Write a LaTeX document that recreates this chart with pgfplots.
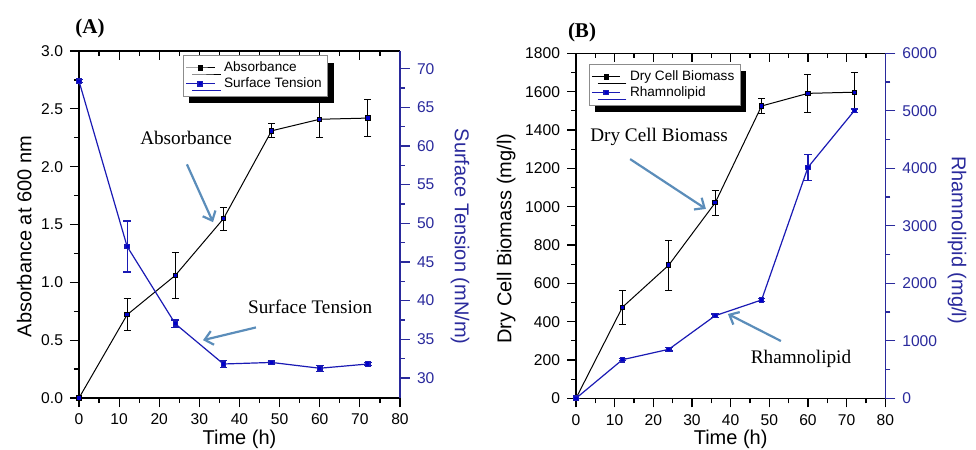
\documentclass[border=0pt]{standalone}
\usepackage{fontspec}
\setmainfont{Liberation Sans}
\newfontfamily\annfont{Liberation Serif}
\usepackage{pgfplots}
\pgfplotsset{compat=1.18}
\usetikzlibrary{arrows.meta,shadows}
\definecolor{axblue}{HTML}{2A2A9C}
\definecolor{datblue}{HTML}{1A1AB4}
\definecolor{arrowblue}{HTML}{5B8DBA}

\tikzset{
  arr/.style={arrowblue, line width=1.1pt, -{Straight Barb[length=4pt,width=7pt]}},
  ann/.style={font=\annfont\fontsize{9.6}{11}\selectfont},
}

\pgfplotsset{
  panel/.style={
    scale only axis,
    xmin=0, xmax=80,
    xtick={0,10,...,80}, minor x tick num=1,
    tick label style={font=\fontsize{7.8}{9}\selectfont},
    label style={font=\fontsize{10}{12}\selectfont},
    /pgf/number format/assume math mode=true,
    /pgf/number format/1000 sep={},
    scaled ticks=false,
    axis line style={line width=0.6pt},
    major tick length=4.5pt, minor tick length=2.5pt,
    every tick/.style={line width=0.6pt, black},
    tick align=outside,
    xlabel style={at={(axis description cs:0.5,-0.118)}, anchor=center},
  },
  blueside/.style={
    axis y line*=right, axis x line=none,
    y axis line style={axblue, line width=0.6pt},
    every tick/.style={line width=0.6pt, axblue},
    y tick label style={text=axblue},
    ylabel style={text=axblue, rotate=180},
    major tick length=5pt,
    legend style={font=\fontsize{6.8}{7.5}\selectfont, draw=black!45, fill=white,
      line width=0.4pt, inner sep=1pt, row sep=-2.5pt, cells={anchor=west},
      /tikz/every odd column/.append style={column sep=2.5pt},
      drop shadow={shadow xshift=3pt, shadow yshift=-3.5pt, fill=black, opacity=1}},
    legend image code/.code={\draw[mark repeat=2,mark phase=2] plot coordinates {(0cm,0cm)(0.25cm,0cm)(0.5cm,0cm)};},
  },
  topticks/.style={
    scale only axis, xmin=0, xmax=80, ymin=0, ymax=1,
    axis x line*=top, axis y line=none,
    xtick={0,10,...,80}, minor x tick num=1, xticklabels={},
    tick align=inside, axis line style={line width=0.6pt},
    major tick length=4.5pt, minor tick length=2.5pt,
    every tick/.style={line width=0.6pt, black},
  },
  blk/.style={black, line width=0.5pt, mark=square*, mark size=1.1pt,
    error bars/.cd, y dir=both, y explicit,
    error bar style={line width=0.5pt, black},
    error mark options={rotate=90, black, mark size=1.75pt, line width=0.5pt}},
  blu/.style={datblue, line width=0.6pt, mark=square*, mark size=1.1pt,
    error bars/.cd, y dir=both, y explicit,
    error bar style={line width=0.6pt, datblue},
    error mark options={rotate=90, datblue, mark size=1.9pt, line width=0.6pt}},
}

\begin{document}
\begin{tikzpicture}
\useasboundingbox (0,0) rectangle (488pt,225pt);

% ---------- (A) ----------
\begin{axis}[panel, at={(39.5pt,26pt)}, anchor=south west,
    width=160.5pt, height=173.5pt,
    axis x line*=bottom, axis y line*=left,
    ymin=0, ymax=3, ytick={0,0.5,...,3.0}, minor y tick num=1,
    yticklabel style={/pgf/number format/fixed, /pgf/number format/fixed zerofill,
      /pgf/number format/precision=1},
    xlabel={Time (h)},
    ylabel={Absorbance at 600 nm},
    ylabel style={at={(axis description cs:-0.171,0.465)}, anchor=center},
]
\addplot+[blk] coordinates {
  (0,0) +- (0,0)
  (12,0.72) +- (0,0.14)
  (24,1.06) +- (0,0.20)
  (36,1.55) +- (0,0.10)
  (48,2.31) +- (0,0.06)
  (60,2.41) +- (0,0.155)
  (72,2.42) +- (0,0.16)
};
\node[ann] at (axis cs:26.7,2.25) {Absorbance};
\draw[arr] (axis cs:26.9,2.02) -- (axis cs:33.4,1.52);
\node[ann] at (axis cs:57.6,0.79) {Surface Tension};
\draw[arr] (axis cs:44.1,0.61) -- (axis cs:30.9,0.50);
\end{axis}

\begin{axis}[topticks, at={(39.5pt,26pt)}, anchor=south west,
    width=160.5pt, height=173.5pt]
\end{axis}

\begin{axis}[panel, blueside, at={(39.5pt,26pt)}, anchor=south west,
    width=160.5pt, height=173.5pt,
    ymin=27.4, ymax=72.3, ytick={30,35,...,70}, minor y tick num=1,
    ylabel={Surface Tension (mN/m)},
    ylabel style={at={(axis description cs:1.187,0.465)}, anchor=center},
    legend style={at={(0.55,0.988)}, anchor=north},
]
\addlegendimage{black, line width=0.5pt, mark=square*, mark size=1.1pt}
\addlegendentry{Absorbance}
\addplot+[blu] coordinates {
  (0,68.4) +- (0,0.2)
  (12,47.0) +- (0,3.3)
  (24,37.0) +- (0,0.5)
  (36,31.8) +- (0,0.5)
  (48,32.0) +- (0,0.2)
  (60,31.25) +- (0,0.4)
  (72,31.8) +- (0,0.2)
};
\addlegendentry{Surface Tension}
\end{axis}

% ---------- (B) ----------
\begin{axis}[panel, at={(288pt,25.85pt)}, anchor=south west,
    width=154.65pt, height=172.5pt,
    axis x line*=bottom, axis y line*=left,
    ymin=0, ymax=1800, ytick={0,200,...,1800}, minor y tick num=1,
    xlabel={Time (h)},
    ylabel={Dry Cell Biomass (mg/l)},
    ylabel style={at={(axis description cs:-0.226,0.463)}, anchor=center},
]
\addplot+[blk] coordinates {
  (0,0) +- (0,0)
  (12,475) +- (0,90)
  (24,695) +- (0,130)
  (36,1020) +- (0,65)
  (48,1525) +- (0,37)
  (60,1591) +- (0,100)
  (72,1597) +- (0,105)
};
\node[ann] at (axis cs:21.5,1363) {Dry Cell Biomass};
\draw[arr] (axis cs:14.0,1248) -- (axis cs:33.6,988);
\node[ann] at (axis cs:58.2,205) {Rhamnolipid};
\draw[arr] (axis cs:53.0,299) -- (axis cs:39.3,440);
\end{axis}

\begin{axis}[topticks, at={(288pt,25.85pt)}, anchor=south west,
    width=154.65pt, height=172.5pt]
\end{axis}

\begin{axis}[panel, blueside, at={(288pt,25.85pt)}, anchor=south west,
    width=154.65pt, height=172.5pt,
    ymin=0, ymax=6000, ytick={0,1000,...,6000}, minor y tick num=1,
    ylabel={Rhamnolipid (mg/l)},
    ylabel style={at={(axis description cs:1.232,0.459)}, anchor=center},
    legend style={at={(0.042,0.969)}, anchor=north west},
]
\addlegendimage{black, line width=0.5pt, mark=square*, mark size=1.1pt}
\addlegendentry{Dry Cell Biomass}
\addplot+[blu] coordinates {
  (0,0) +- (0,0)
  (12,671) +- (0,20)
  (24,852) +- (0,30)
  (36,1437) +- (0,30)
  (48,1710) +- (0,30)
  (60,4017) +- (0,225)
  (72,5002) +- (0,30)
};
\addlegendentry{Rhamnolipid}
\end{axis}

\node[font=\annfont\bfseries\fontsize{10.5}{12}\selectfont] at (45pt,211pt) {(A)};
\node[font=\annfont\bfseries\fontsize{10.5}{12}\selectfont] at (291pt,209pt) {(B)};
\end{tikzpicture}
\end{document}
